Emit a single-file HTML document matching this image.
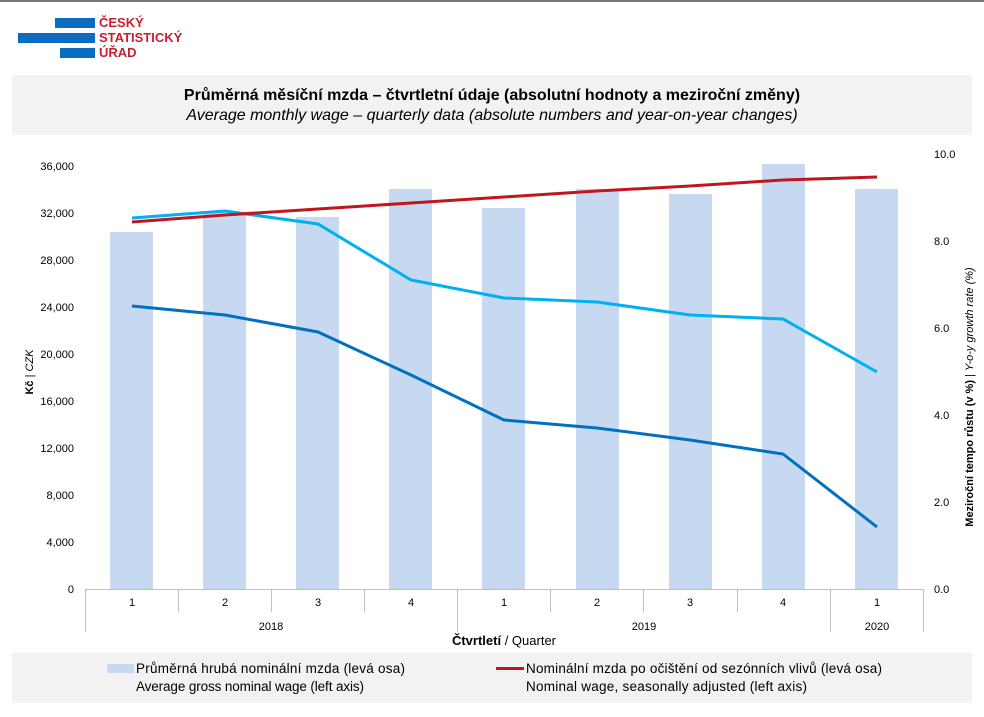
<!DOCTYPE html>
<html><head><meta charset="utf-8"><style>
body{margin:0;width:984px;height:717px;background:#fff;font-family:"Liberation Sans",sans-serif;position:relative;overflow:hidden}
.t{position:absolute}
</style></head><body>
<div class="t" style="left:0;top:0;width:984px;height:2px;background:#777"></div>
<div class="t" style="left:55px;top:18px;width:40px;height:10px;background:#0a6cbf"></div>
<div class="t" style="left:18px;top:33px;width:77px;height:10px;background:#0a6cbf"></div>
<div class="t" style="left:60px;top:48px;width:35px;height:10px;background:#0a6cbf"></div>
<div class="t" style="left:99px;top:15px;color:#c8202f;font-weight:bold;font-size:13px;line-height:15px">ČESKÝ<br>STATISTICKÝ<br>ÚŘAD</div>
<div class="t" style="left:12px;top:75px;width:960px;height:60px;background:#f2f2f2;text-align:center">
<div style="font-weight:bold;font-size:16px;margin-top:12px">Průměrná měsíční mzda – čtvrtletní údaje (absolutní hodnoty a meziroční změny)</div>
<div style="font-style:italic;font-size:16px;margin-top:2px">Average monthly wage – quarterly data (absolute numbers and year-on-year changes)</div></div>
<svg class="t" style="left:0;top:0" width="984" height="717" font-family="Liberation Sans" font-size="11">
<g fill="#c6d9f0">
<rect x="110" y="232" width="43" height="357"/><rect x="203" y="212" width="43" height="377"/><rect x="296" y="217" width="43" height="372"/><rect x="389" y="189" width="43" height="400"/><rect x="482" y="208" width="43" height="381"/><rect x="576" y="189" width="43" height="400"/><rect x="669" y="194" width="43" height="395"/><rect x="762" y="164" width="43" height="425"/><rect x="855" y="189" width="43" height="400"/></g>
<g stroke="#bfbfbf" stroke-width="1">
<line x1="85" y1="589.5" x2="923" y2="589.5"/>
<line x1="85.5" y1="589" x2="85.5" y2="632"/><line x1="457.5" y1="589" x2="457.5" y2="632"/><line x1="830.5" y1="589" x2="830.5" y2="632"/><line x1="923.5" y1="589" x2="923.5" y2="632"/>
<line x1="178.5" y1="589" x2="178.5" y2="612"/><line x1="271.5" y1="589" x2="271.5" y2="612"/><line x1="364.5" y1="589" x2="364.5" y2="612"/><line x1="550.5" y1="589" x2="550.5" y2="612"/><line x1="643.5" y1="589" x2="643.5" y2="612"/><line x1="737.5" y1="589" x2="737.5" y2="612"/>
</g>
<g fill="none" stroke-width="3">
<polyline stroke="#00b0f0" points="132,218 225,211 318,224 411,280 504,298 597,302 690,315 783,319 877,372"/>
<polyline stroke="#0070c0" points="132,306 225,315 318,332 411,375 504,420 597,428 690,440 783,454 877,527"/>
<polyline stroke="#c0171f" points="132,222 225,215 318,209 411,203 504,197 597,191 690,186 783,180 877,177"/>
</g>
<g text-anchor="end" fill="#000">
<text x="74" y="170">36,000</text><text x="74" y="217">32,000</text><text x="74" y="264">28,000</text><text x="74" y="311">24,000</text><text x="74" y="358">20,000</text><text x="74" y="405">16,000</text><text x="74" y="452">12,000</text><text x="74" y="499">8,000</text><text x="74" y="546">4,000</text><text x="74" y="593">0</text></g>
<g fill="#000"><text x="934" y="158">10.0</text><text x="934" y="245">8.0</text><text x="934" y="332">6.0</text><text x="934" y="419">4.0</text><text x="934" y="506">2.0</text><text x="934" y="593">0.0</text></g>
<g text-anchor="middle"><text x="132" y="606">1</text><text x="225" y="606">2</text><text x="318" y="606">3</text><text x="411" y="606">4</text><text x="504" y="606">1</text><text x="597" y="606">2</text><text x="690" y="606">3</text><text x="783" y="606">4</text><text x="877" y="606">1</text>
<text x="271" y="630">2018</text><text x="644" y="630">2019</text><text x="877" y="630">2020</text>
<text x="504" y="645" font-size="13"><tspan font-weight="bold">Čtvrtletí</tspan> / Quarter</text></g>
<text transform="translate(33,372) rotate(-90)" text-anchor="middle" font-size="11"><tspan font-weight="bold">Kč</tspan> | <tspan font-style="italic">CZK</tspan></text>
<text transform="translate(973,397) rotate(-90)" text-anchor="middle" font-size="11"><tspan font-weight="bold">Meziroční tempo růstu (v %)</tspan> | <tspan font-style="italic">Y-o-y growth rate (%)</tspan></text>
<rect x="12" y="653" width="960" height="50" fill="#f2f2f2"/>
<rect x="107" y="664" width="27" height="9" fill="#c6d9f0"/>
<rect x="496" y="667" width="28" height="3" fill="#c0171f"/>
<g font-size="13.5"><text x="136" y="673" textLength="269">Průměrná hrubá nominální mzda (levá osa)</text><text x="136" y="691" textLength="228">Average gross nominal wage (left axis)</text>
<text x="526" y="673" textLength="356">Nominální mzda po očištění od sezónních vlivů (levá osa)</text><text x="526" y="691" textLength="281">Nominal wage, seasonally adjusted (left axis)</text></g>
</svg>
</body></html>
